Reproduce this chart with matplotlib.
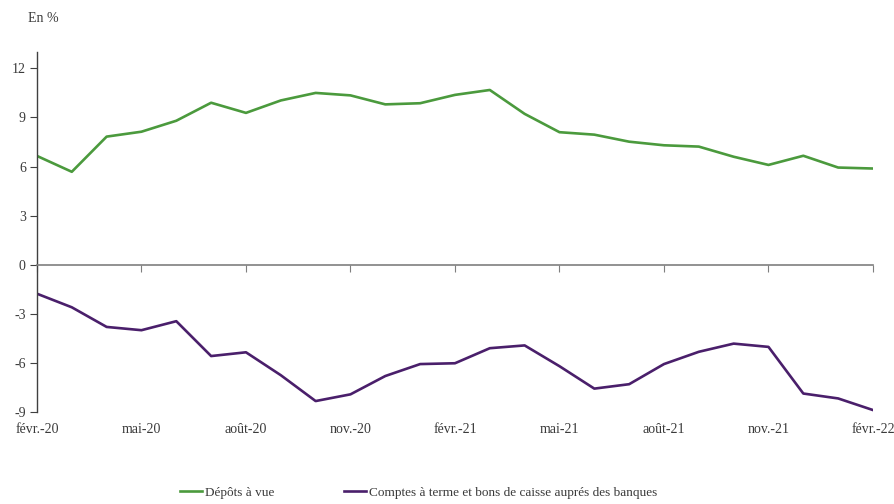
import matplotlib
matplotlib.use("Agg")
import matplotlib.pyplot as plt
import matplotlib.transforms as mtransforms

plt.rcParams['font.family'] = ['Liberation Serif', 'DejaVu Serif']

months = ["févr.-20", "mars-20", "avr.-20", "mai-20", "juin-20", "juil.-20", "août-20",
          "sept.-20", "oct.-20", "nov.-20", "déc.-20", "janv.-21", "févr.-21", "mars-21",
          "avr.-21", "mai-21", "juin-21", "juil.-21", "août-21", "sept.-21", "oct.-21",
          "nov.-21", "déc.-21", "janv.-22", "févr.-22"]

depots_vue = [6.65, 5.68, 7.83, 8.13, 8.8, 9.9, 9.28, 10.04, 10.5, 10.35, 9.8, 9.87,
              10.38, 10.68, 9.22, 8.1, 7.95, 7.52, 7.3, 7.22, 6.6, 6.1, 6.66, 5.94, 5.88]
comptes_terme = [-1.77, -2.6, -3.8, -4.0, -3.45, -5.58, -5.35, -6.75, -8.33, -7.92,
                 -6.8, -6.07, -6.02, -5.1, -4.93, -6.2, -7.57, -7.3, -6.07, -5.32,
                 -4.82, -5.02, -7.87, -8.17, -8.88]

series_labels = ["Dépôts à vue", "Comptes à terme et bons de caisse auprés des banques"]
series_colors = ["#4b9a3d", "#4a1f6b"]

yticks = [-9, -6, -3, 0, 3, 6, 9, 12]
tick_idx = list(range(0, len(months), 3))

fig = plt.figure(figsize=(8.95, 5.04), dpi=100)
ax = fig.add_axes([0.0413, 0.1825, 0.9341, 0.7143])

x = list(range(len(months)))
ax.plot(x, depots_vue, color=series_colors[0], lw=1.9, label=series_labels[0])
ax.plot(x, comptes_terme, color=series_colors[1], lw=1.9, label=series_labels[1])

ax.set_xlim(0, len(months) - 1)
ax.set_ylim(-9, 13)

axis_col = "#7f7f7f"
for side in ("top", "right"):
    ax.spines[side].set_visible(False)
ax.spines["bottom"].set_position(("data", 0))
ax.spines["bottom"].set_color(axis_col)
ax.spines["left"].set_color("#404040")
ax.spines["bottom"].set_linewidth(1.2)
ax.spines["left"].set_linewidth(1.0)

text_col = "#3a3a3a"
ax.set_yticks(yticks)
ax.set_yticklabels([str(v) for v in yticks], fontsize=10, color=text_col)
ax.tick_params(axis="y", direction="out", length=5, color="#404040", pad=3)

ax.set_xticks(tick_idx)
ax.set_xticklabels([])
ax.tick_params(axis="x", direction="out", length=5, color=axis_col)

trans = mtransforms.offset_copy(ax.transData, fig=fig, x=0, y=-17, units="dots")
for i in tick_idx:
    ax.text(i, -9, months[i], transform=trans, ha="center", va="center",
            fontsize=10, color=text_col, clip_on=False)

fig.text(0.031, 0.963, "En %", fontsize=10, color=text_col, ha="left", va="center")

fig.legend(loc="center", bbox_to_anchor=(0.468, 0.022), ncol=2, frameon=False,
           fontsize=9.5, handlelength=1.67, handletextpad=0.2, columnspacing=5.3,
           labelcolor=text_col)

fig.savefig("out.png", dpi=100)
